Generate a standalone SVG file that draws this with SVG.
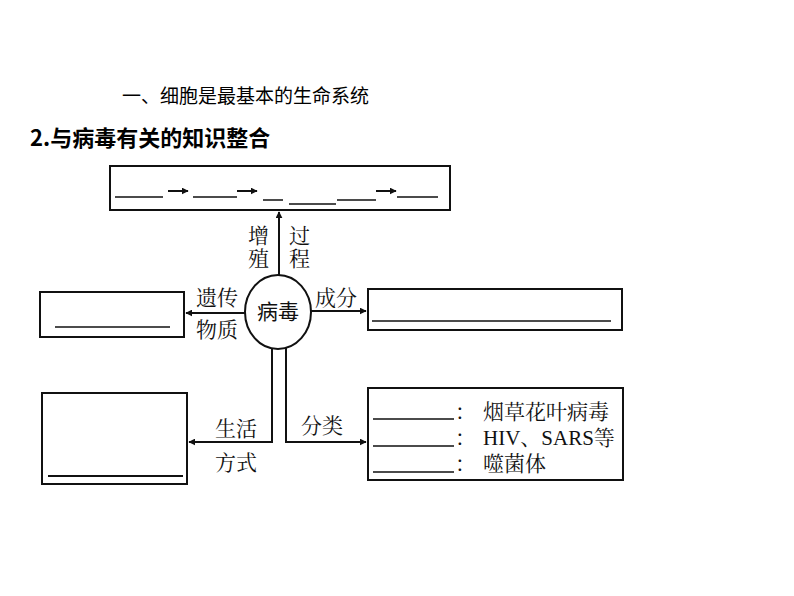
<svg xmlns="http://www.w3.org/2000/svg" width="794" height="596" viewBox="0 0 794 596">
<style>
.b{fill:none;stroke:#111;stroke-width:2}
.l{stroke:#111;stroke-width:1.5;fill:none}
.t{font-family:"Liberation Serif","Noto Sans CJK SC",serif;font-size:21px;fill:#111}
.s{font-family:"Liberation Serif","Noto Serif CJK SC","Noto Sans CJK SC",serif;font-size:21px;fill:#111}
</style>
<defs><marker id="a" viewBox="0 0 10 10" refX="9" refY="5" markerWidth="7" markerHeight="7" orient="auto" markerUnits="userSpaceOnUse"><path d="M0,0L10,5L0,10z" fill="#111"/></marker></defs>
<rect width="794" height="596" fill="#fff"/>
<text x="122" y="103" style="font-family:'Noto Sans CJK SC',sans-serif;font-size:19px">一、细胞是最基本的生命系统</text>
<text x="30" y="146" style="font-family:'Noto Sans CJK SC',sans-serif;font-size:22px;font-weight:bold">2.与病毒有关的知识整合</text>
<g id="top"><rect class="b" x="110" y="166" width="340" height="44"/>
<path class="l" d="M115 197H163M193 197H237M263 200H283M289 204H336M337 200H376M397 197H438"/>
<g stroke="#111" stroke-width="2"><path d="M168 191H188" marker-end="url(#a)"/><path d="M237 191H257" marker-end="url(#a)"/><path d="M376 191H396" marker-end="url(#a)"/></g></g>
<g id="virus"><ellipse class="b" cx="278" cy="312" rx="33" ry="37"/><text class="t" x="278" y="319" text-anchor="middle">病毒</text></g>
<g id="left1"><rect class="b" x="40" y="292" width="144" height="45"/><path class="l" d="M55 327H170"/></g>
<g id="right1"><rect class="b" x="368" y="289" width="254" height="41"/><path class="l" d="M372 321H611"/></g>
<g id="left2"><rect class="b" x="42" y="393" width="145" height="91"/><path d="M48 476H183" stroke="#111" stroke-width="2"/></g>
<g id="right2"><rect class="b" x="368" y="388" width="255" height="92"/>
<path class="l" d="M373 419H454M373 446H454M373 472H454"/>
<text class="s" x="455" y="419">：</text><text class="s" x="483" y="419">烟草花叶病毒</text>
<text class="s" x="455" y="445">：</text><text class="s" x="483" y="445">HIV、SARS等</text>
<text class="s" x="455" y="471">：</text><text class="s" x="483" y="471">噬菌体</text></g>
<g id="connectors" stroke="#111" stroke-width="2" fill="none">
<path d="M279 275V212" marker-end="url(#a)"/>
<path d="M245 313H186" marker-end="url(#a)"/>
<path d="M311 311H366" marker-end="url(#a)"/>
<path d="M272 348V442H189" marker-end="url(#a)"/>
<path d="M286 348V442H366" marker-end="url(#a)"/>
</g>
<g class="s">
<text x="248" y="243">增</text><text x="248" y="266">殖</text>
<text x="289" y="243">过</text><text x="289" y="266">程</text>
<text x="196" y="305">遗传</text><text x="196" y="337">物质</text>
<text x="315" y="305">成分</text>
<text x="215" y="436">生活</text><text x="215" y="470">方式</text>
<text x="301" y="433">分类</text>
</g>
</svg>
